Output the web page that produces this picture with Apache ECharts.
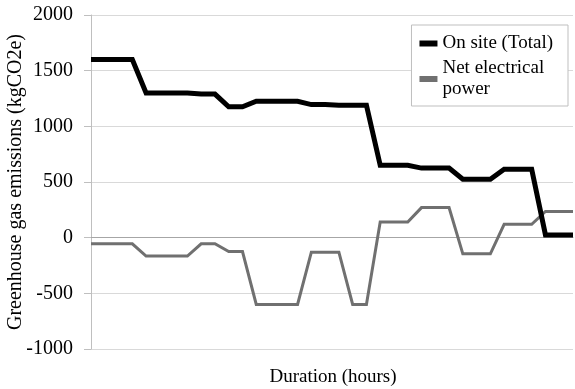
<!DOCTYPE html>
<html>
<head>
<meta charset="utf-8">
<script src="https://cdn.jsdelivr.net/npm/echarts@6/dist/echarts.min.js"></script>
<style>html,body{margin:0;padding:0;background:#fff}#c{width:575px;height:389px}</style>
</head>
<body>
<div id="c"></div>
<script>
var categories = ['1','2','3','4','5','6','7','8','9','10','11','12','13','14','15','16','17','18','19','20','21','22','23','24','25','26','27','28','29','30','31','32','33','34','35','36'];
var onSite = [1600,1600,1600,1600,1300,1300,1300,1300,1290,1290,1175,1175,1225,1225,1225,1225,1195,1195,1190,1190,1190,650,650,650,625,625,625,525,525,525,615,615,615,25,25,25];
var netElectrical = [-55,-55,-55,-55,-165,-165,-165,-165,-55,-55,-125,-125,-600,-600,-600,-600,-130,-130,-130,-600,-600,140,140,140,270,270,270,-145,-145,-145,120,120,120,235,235,235];
var yTicks = {min:-1000, max:2000, interval:500};
var seriesNames = ['On site (Total)','Net electrical power'];

var font = 'Liberation Serif';
var chart = echarts.init(document.getElementById('c'));
chart.setOption({
  animation:false,
  backgroundColor:'#fff',
  textStyle:{fontFamily:font},
  grid:{left:91,right:2,top:15,bottom:40,outerBoundsMode:'none',containLabel:false},
  title:{text:'Duration (hours)',left:333,top:368,textAlign:'center',padding:0,
    textStyle:{fontFamily:font,fontSize:19,fontWeight:'normal',color:'#000'}},
  legend:{
    orient:'vertical',right:7,top:25,
    backgroundColor:'#fff',borderColor:'#bfbfbf',borderWidth:1,
    padding:[8,15,6,8],itemGap:4,itemWidth:18,itemHeight:6,icon:'rect',
    textStyle:{fontFamily:font,fontSize:19,color:'#000',lineHeight:21,
      rich:{t:{fontFamily:font,fontSize:19,color:'#000',lineHeight:21}}},
    formatter:function(n){
      if(n==='Net electrical power'){return '{t|Net electrical}\n{t|power}';}
      return '{t|'+n+'}';
    },
    data:[{name:seriesNames[0]},{name:seriesNames[1],itemStyle:{color:'#707070'}}]
  },
  xAxis:{type:'category',data:categories,boundaryGap:false,
    axisLine:{onZero:true,lineStyle:{color:'#a6a6a6',width:1}},
    axisTick:{show:false},axisLabel:{show:false},splitLine:{show:false}},
  yAxis:{type:'value',min:yTicks.min,max:yTicks.max,interval:yTicks.interval,
    name:'Greenhouse gas emissions (kgCO2e)',nameLocation:'middle',nameGap:65,
    nameMoveOverlap:false,
    nameTextStyle:{fontFamily:font,fontSize:20,color:'#000'},
    axisLine:{show:true,lineStyle:{color:'#bfbfbf',width:1}},
    axisTick:{show:true,length:7,lineStyle:{color:'#bfbfbf'}},
    axisLabel:{fontFamily:font,fontSize:20,color:'#000',margin:18,
      formatter:function(v){return '{n|'+v+'}';},
      rich:{n:{fontFamily:font,fontSize:20,color:'#000'}}},
    splitLine:{lineStyle:{color:'#d9d9d9',width:1}}},
  series:[
    {name:seriesNames[1],type:'line',data:netElectrical,showSymbol:false,symbol:'none',
      lineStyle:{color:'#707070',width:3,join:'miter'},itemStyle:{color:'#707070'},z:2},
    {name:seriesNames[0],type:'line',data:onSite,showSymbol:false,symbol:'none',
      lineStyle:{color:'#000',width:5,join:'miter'},itemStyle:{color:'#000'},z:3}
  ]
});
</script>
</body>
</html>
